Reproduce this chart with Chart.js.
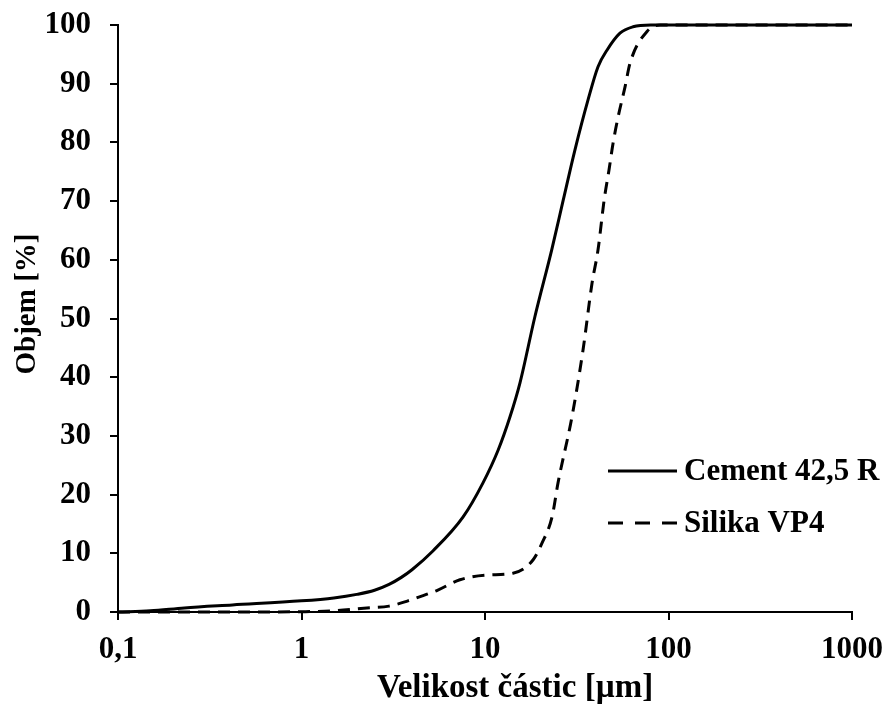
<!DOCTYPE html>
<html>
<head>
<meta charset="utf-8">
<script src="https://cdn.jsdelivr.net/npm/chart.js@4"></script>
<style>
  html, body { margin: 0; padding: 0; background: #fff; }
  #wrap { width: 888px; height: 706px; }
</style>
</head>
<body>
<div id="wrap"><canvas id="psdChart" width="888" height="706"></canvas></div>
<script>
// particle size (µm) and cumulative volume (%)
const cementSize   = [0.1, 0.15, 0.23, 0.42, 1.0, 1.5, 2.0, 2.5, 3.0, 3.5, 4.0, 5.2, 7.6, 9.75, 11.8, 13.7, 15.5, 18.7, 23.1, 26.7, 30.9, 36.4, 41.3, 46.2, 54.4, 64.1, 80, 1000];
const cementVolume = [0, 0.2, 0.7, 1.2, 1.9, 2.4, 3.0, 3.7, 4.7, 5.9, 7.2, 10.4, 16.2, 22, 27.6, 33.3, 39, 50.3, 61.7, 70.2, 78.7, 87.2, 92.9, 95.7, 98.6, 99.7, 100, 100];

const silikaSize   = [0.1, 0.5, 1.0, 1.49, 2.27, 3.0, 3.8, 4.6, 5.5, 7.3, 10.3, 14.2, 18.3, 20.5, 23.2, 25.0, 29.8, 34.2, 38.3, 41.3, 44.6, 47.4, 49.9, 53.1, 58.0, 61.7, 76.4, 90, 1000];
const silikaVolume = [0, 0, 0.05, 0.2, 0.7, 1.0, 1.9, 2.8, 3.7, 5.5, 6.3, 6.6, 8.9, 11.8, 16.2, 22, 33.3, 44.6, 56, 61.7, 70.2, 75.3, 79.9, 84.3, 89.5, 93.5, 98.9, 100, 100];

const xTickValues = [0.1, 1, 10, 100, 1000];
const xTickLabels = ['0,1', '1', '10', '100', '1000'];

const xTitle = 'Velikost částic [µm]';
const yTitle = 'Objem [%]';

const FONT = "'Liberation Serif', 'Times New Roman', serif";

const toPoints = (xs, ys) => xs.map((x, i) => ({ x: x, y: ys[i] }));

// axis titles + legend, drawn by hand so they can sit off-centre like the original layout
const overlay = {
    id: 'overlay',
    afterDraw(chart) {
        const c = chart.ctx;
        c.save();
        c.fillStyle = '#000';
        c.textBaseline = 'middle';
        c.textAlign = 'center';

        c.font = 'bold 33px ' + FONT;
        c.fillText(xTitle, 515, 688);

        c.save();
        c.translate(28, 304);
        c.rotate(-Math.PI / 2);
        c.font = 'bold 29px ' + FONT;
        c.fillText(yTitle, 0, 0);
        c.restore();

        const rows = [
            { label: chart.data.datasets[0].label, dash: [], y: 471 },
            { label: chart.data.datasets[1].label, dash: [15, 12], y: 523 }
        ];
        c.font = 'bold 31px ' + FONT;
        c.textAlign = 'left';
        rows.forEach(r => {
            c.beginPath();
            c.setLineDash(r.dash);
            c.lineWidth = 3;
            c.strokeStyle = '#000';
            c.moveTo(608, r.y);
            c.lineTo(677, r.y);
            c.stroke();
            c.setLineDash([]);
            c.fillText(r.label, 684, r.y + 1);
        });
        c.restore();
    }
};

new Chart(document.getElementById('psdChart'), {
    type: 'line',
    data: {
        datasets: [
            {
                label: 'Cement 42,5 R',
                data: toPoints(cementSize, cementVolume),
                borderColor: '#000',
                borderWidth: 3,
                pointRadius: 0,
                cubicInterpolationMode: 'monotone',
                clip: 6
            },
            {
                label: 'Silika VP4',
                data: toPoints(silikaSize, silikaVolume),
                borderColor: '#000',
                borderWidth: 3,
                borderDash: [12, 8],
                pointRadius: 0,
                cubicInterpolationMode: 'monotone',
                clip: 6
            }
        ]
    },
    options: {
        responsive: false,
        animation: false,
        layout: { padding: { left: 0, right: 36, top: 25, bottom: 0 } },
        plugins: {
            legend: { display: false },
            tooltip: { enabled: false }
        },
        scales: {
            x: {
                type: 'logarithmic',
                min: 0.1,
                max: 1000,
                afterBuildTicks: scale => {
                    scale.ticks = xTickValues.map(v => ({ value: v }));
                },
                afterFit: scale => {
                    scale.height = 94;
                    scale.paddingLeft = 0;
                    scale.paddingRight = 0;
                },
                border: { display: true, color: '#000', width: 2 },
                grid: { display: true, drawOnChartArea: false, color: '#000', lineWidth: 2, tickLength: 8 },
                ticks: {
                    color: '#000',
                    padding: 11,
                    maxRotation: 0,
                    font: { family: FONT, size: 31, weight: 'bold' },
                    callback: (v) => {
                        const i = xTickValues.indexOf(v);
                        return i >= 0 ? xTickLabels[i] : '';
                    }
                },
                title: { display: false }
            },
            y: {
                min: 0,
                max: 100,
                afterFit: scale => {
                    scale.width = 118;
                    scale.paddingTop = 0;
                    scale.paddingBottom = 0;
                },
                border: { display: true, color: '#000', width: 2 },
                grid: { display: true, drawOnChartArea: false, color: '#000', lineWidth: 2, tickLength: 8 },
                ticks: {
                    stepSize: 10,
                    color: '#000',
                    padding: 19,
                    font: { family: FONT, size: 31, weight: 'bold' }
                },
                title: { display: false }
            }
        }
    },
    plugins: [overlay]
});
</script>
</body>
</html>
